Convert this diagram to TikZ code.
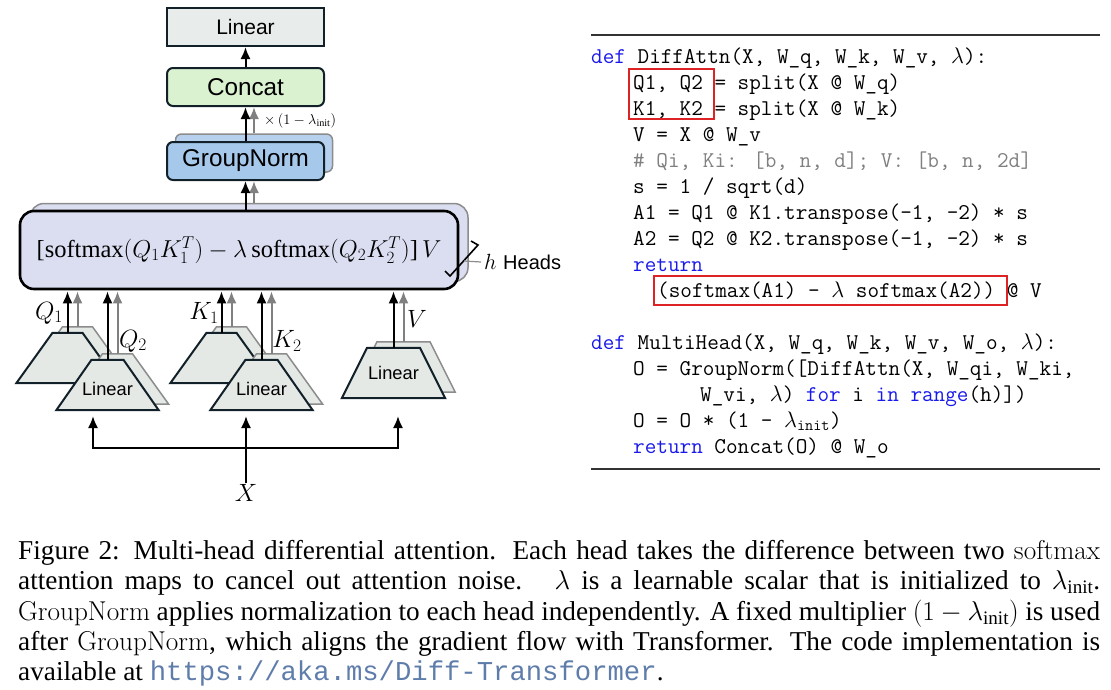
\RequirePackage{fix-cm}
\documentclass[tikz,border=0pt]{standalone}
\usepackage{fontspec}
\usepackage{amsmath}
\usepackage{xcolor}
\usetikzlibrary{positioning,arrows.meta}

\newfontfamily\sansfont{Liberation Sans}
\newfontfamily\capfont{Liberation Serif}
\newfontfamily\urlfont{Liberation Mono}

\definecolor{edge}{RGB}{18,33,41}
\definecolor{lingray}{RGB}{232,236,234}
\definecolor{trapgray}{RGB}{228,233,230}
\definecolor{catgreen}{RGB}{218,242,208}
\definecolor{normblue}{RGB}{166,200,235}
\definecolor{normback}{RGB}{182,208,238}
\definecolor{headlav}{RGB}{219,222,241}
\definecolor{backline}{RGB}{140,140,140}
\definecolor{arrgray}{RGB}{128,128,128}
\definecolor{kwblue}{RGB}{25,25,235}
\definecolor{cmtgray}{RGB}{128,128,128}
\definecolor{hlred}{RGB}{222,35,38}
\definecolor{urlblue}{RGB}{95,125,170}

\newcommand{\kwd}[1]{\textcolor{kwblue}{#1}}
% trapezoid on a named node: name, half top width, style
\newcommand{\trapdraw}[3]{%
  \draw[#3] ([xshift=-#2]#1.north) -- ([xshift=#2]#1.north) -- (#1.south east)
    -- (#1.south west) -- cycle;}

\begin{document}
\begin{tikzpicture}[x=1pt,y=-1pt,
    box/.style={draw=edge, line width=2pt, minimum width=157pt, minimum height=38pt,
      inner sep=0pt, font=\sansfont\fontsize{24.3}{24.3}\selectfont},
    headbox/.style={draw=black, line width=2.6pt, fill=headlav, rounded corners=14pt,
      minimum width=438pt, minimum height=78pt, inner sep=0pt},
    backbox/.style={draw=backline, line width=1.5pt},
    trapnode/.style={rectangle, draw=none, minimum width=102pt, minimum height=50pt, inner sep=0pt},
    trapfront/.style={draw=edge, line width=2pt, fill=trapgray},
    trapback/.style={draw=backline, line width=1.5pt, fill=trapgray},
    traptext/.style={inner sep=0pt, font=\sansfont\fontsize{18.3}{18.3}\selectfont},
    arr/.style={-{Latex[length=12pt,width=10pt]}, line width=2pt},
    garr/.style={arr, arrgray},
    lbl/.style={inner sep=1pt, font=\fontsize{25}{25}\selectfont},
    codeline/.style={anchor=base west, inner sep=0pt, font=\ttfamily\fontsize{22.55}{26}\selectfont},
    captext/.style={anchor=base west, inner sep=0pt, font=\capfont\fontsize{27.25}{30}\selectfont}]
  \useasboundingbox (0,0) rectangle (1111,689);

  % output stack
  \node[box, fill=lingray, font=\sansfont\fontsize{21}{21}\selectfont] (lin) at (245.5,27) {Linear};
  \node[box, fill=catgreen, rounded corners=6pt] (concat) at (245.5,87) {Concat};
  \node[box, backbox, fill=normback, rounded corners=6pt] (normbk) at (254,153) {};
  \node[box, fill=normblue, rounded corners=6pt] (norm) at (245.5,161) {GroupNorm};
  \draw[arr] (concat) -- (lin);
  \draw[garr] (normbk.north) -- (normbk.north |- concat.south);
  \draw[arr] (norm) -- (concat);
  \node[anchor=west, inner sep=0pt, font=\capfont\fontsize{14.5}{14.5}\selectfont] (mult) at (264,121)
    {$\times\,(1-\lambda_{\text{init}})$};

  % attention heads
  \node[headbox, backbox] (headbk) at (249,242.5) {};
  \node[headbox] (head) at (239,250)
    {\capfont\fontsize{24.5}{24.5}\selectfont[softmax$(Q_1K_1^T)-\lambda\,$softmax$(Q_2K_2^T)$]\,$V$};
  \draw[garr] (headbk.north -| normbk.south) -- (norm.south -| normbk.south);
  \draw[arr] (head.north -| norm.south) -- (norm.south);

  \draw[line width=1.6pt] (445,271) -- (450,276) -- (478,245) -- (471,241);
  \coordinate (brk) at (464,261);
  \node[anchor=west, inner sep=3pt] (heads) at (481,262)
    {\fontsize{22}{22}\selectfont$h$ {\sansfont\fontsize{20}{20}\selectfont Heads}};
  \draw[line width=1.2pt, backline] (brk) -- (heads.west);

  % linear projections
  \node[trapnode] (qabk) at (77.5,352) {};
  \node[trapnode] (kabk) at (231.5,352) {};
  \node[trapnode] (qa) at (67.5,358) {};
  \node[trapnode] (ka) at (221.5,358) {};
  \node[trapnode] (qbbk) at (117.5,379) {};
  \node[trapnode] (kbbk) at (271.5,379) {};
  \node[trapnode] (qb) at (107.5,385) {};
  \node[trapnode] (kb) at (261.5,385) {};
  \node[trapnode, minimum width=103pt] (vbbk) at (403.5,367) {};
  \node[trapnode, minimum width=103pt] (vb) at (393.5,373) {};
  \trapdraw{qabk}{15pt}{trapback}
  \trapdraw{kabk}{15pt}{trapback}
  \trapdraw{qa}{15pt}{trapfront}
  \trapdraw{ka}{15pt}{trapfront}
  \trapdraw{qbbk}{15pt}{trapback}
  \trapdraw{kbbk}{15pt}{trapback}
  \trapdraw{qb}{16pt}{trapfront}
  \trapdraw{kb}{16pt}{trapfront}
  \trapdraw{vbbk}{26.5pt}{trapback}
  \trapdraw{vb}{26.5pt}{trapfront}
  \node[traptext] (qbtxt) at ([yshift=-4pt]qb) {Linear};
  \node[traptext] (kbtxt) at ([yshift=-4pt]kb) {Linear};
  \node[traptext] (vbtxt) at (vb) {Linear};

  \foreach \t in {qa,qb,ka,kb,vb}{
    \draw[garr, shorten >=1pt] (\t bk.north) -- (\t bk.north |- head.south);
    \draw[arr, shorten >=1pt] (\t.north) -- (\t.north |- head.south);
  }

  \node[lbl] (lq1) at (49,313) {$Q_1$};
  \node[lbl] (lq2) at (133,341) {$Q_2$};
  \node[lbl] (lk1) at (204,313) {$K_1$};
  \node[lbl] (lk2) at (287,341) {$K_2$};
  \node[lbl] (lv) at (417,319) {$V$};

  % input
  \node[lbl] (x) at (246,493) {$X$};
  \coordinate (fork) at (246,448);
  \coordinate (qin) at (93,416);
  \coordinate (kin) at (246,416);
  \coordinate (vin) at (398,416);
  \draw[arr] (x.north) -- (kin);
  \draw[arr] (fork) -| (qin);
  \draw[arr] (fork) -| (vin);

  % code
  \draw[line width=1.1pt, black!80] (591,35) -- (1100,35);
  \draw[line width=1.1pt, black!80] (591,469) -- (1100,469);
  \node[codeline] (c1) at (591,63) {\kwd{def} DiffAttn(X, W\_q, W\_k, W\_v, $\lambda$):};
  \node[codeline] (c2) at (633,89) {Q1, Q2 = split(X @ W\_q)};
  \node[codeline] (c3) at (633,115) {K1, K2 = split(X @ W\_k)};
  \node[codeline] (c4) at (633,141) {V = X @ W\_v};
  \node[codeline, cmtgray] (c5) at (633,167) {\# Qi, Ki: [b, n, d]; V: [b, n, 2d]};
  \node[codeline] (c6) at (633,193) {s = 1 / sqrt(d)};
  \node[codeline] (c7) at (633,219) {A1 = Q1 @ K1.transpose(-1, -2) * s};
  \node[codeline] (c8) at (633,245) {A2 = Q2 @ K2.transpose(-1, -2) * s};
  \node[codeline] (c9) at (633,271) {\kwd{return}};
  \node[codeline] (c10) at (657,297) {(softmax(A1) - $\lambda$ softmax(A2)) @ V};
  \node[codeline] (c11) at (591,349) {\kwd{def} MultiHead(X, W\_q, W\_k, W\_v, W\_o, $\lambda$):};
  \node[codeline] (c12) at (633,375) {O = GroupNorm([DiffAttn(X, W\_qi, W\_ki,};
  \node[codeline] (c13) at (700,401) {W\_vi, $\lambda$) \kwd{for} i \kwd{in} \kwd{range}(h)])};
  \node[codeline] (c14) at (633,427) {O = O * (1 - $\lambda_{\text{init}}$)};
  \node[codeline] (c15) at (633,453) {\kwd{return} Concat(O) @ W\_o};
  \draw[hlred, line width=1.8pt] (629,69) rectangle (714,119);
  \draw[hlred, line width=1.8pt] (654,276) rectangle (1007,305);

  % caption
  \node[captext] (cap1) at (18,559) {\makebox[1082pt][s]{Figure 2: Multi-head differential attention. Each head takes the difference between two $\mathrm{softmax}$}};
  \node[captext] (cap2) at (18,589) {\makebox[1082pt][s]{attention maps to cancel out attention noise. \ $\lambda$ is a learnable scalar that is initialized to $\lambda_{\text{init}}$.}};
  \node[captext] (cap3) at (18,620) {\makebox[1082pt][s]{$\mathrm{GroupNorm}$ applies normalization to each head independently. A fixed multiplier $(1-\lambda_{\text{init}})$ is used}};
  \node[captext] (cap4) at (18,650) {\makebox[1082pt][s]{after $\mathrm{GroupNorm}$, which aligns the gradient flow with Transformer. The code implementation is}};
  \node[captext] (cap5) at (18,680) {available at {\urlfont\color{urlblue}https://aka.ms/Diff-Transformer}.};
\end{tikzpicture}
\end{document}
